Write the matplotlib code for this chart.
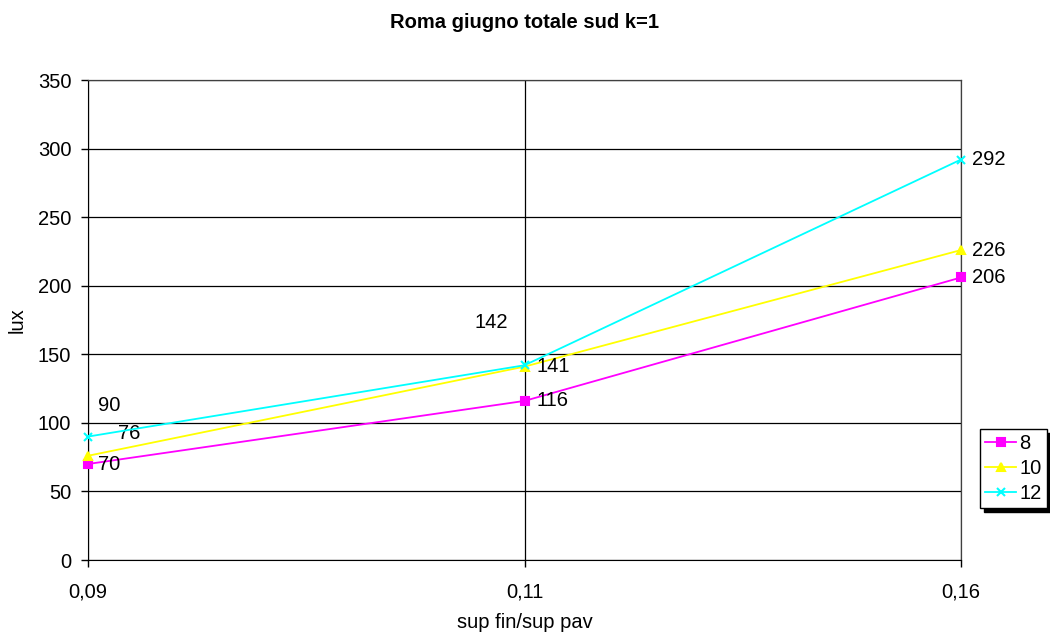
import matplotlib
matplotlib.use("Agg")
import matplotlib.pyplot as plt

# dati
categorie = ["0,09", "0,11", "0,16"]
serie_nomi = ["8", "10", "12"]
lux_8 = [70, 116, 206]
lux_10 = [76, 141, 226]
lux_12 = [90, 142, 292]

colori = ["#FF00FF", "#FFFF00", "#00FFFF"]
marker = ["s", "^", "x"]
# offset etichette in pixel (dx, dy)
offs = [
    [(10, 0), (12, 0), (11, 0)],
    [(30, 22), (12, 0), (11, 0)],
    [(10, 31), (-33, 43), (11, 0)],
]
FS = 14.5

plt.rcParams['font.family'] = ['Liberation Sans', 'DejaVu Sans']

fig = plt.figure(figsize=(10.5, 6.36), dpi=100)
ax = fig.add_axes([88/1050, 1-560/636, (961-88)/1050, 480/636])

x = list(range(len(categorie)))
for i, vals in enumerate([lux_8, lux_10, lux_12]):
    ax.plot(x, vals, color=colori[i], marker=marker[i], markersize=6,
            markeredgewidth=1.5, linewidth=1.3, label=serie_nomi[i],
            clip_on=False, zorder=3)
    for j, v in enumerate(vals):
        ax.annotate(str(v), (x[j], v), xytext=offs[i][j], textcoords='offset pixels',
                    ha='left' if offs[i][j][0] > 0 else 'center', va='center',
                    fontsize=FS)

ax.set_xlim(0, 2)
ax.set_ylim(0, 350)
ax.set_yticks(range(0, 351, 50))
ax.set_xticks(x)
ax.set_xticklabels(categorie)
ax.tick_params(labelsize=FS, length=5, width=1, color='black')
ax.tick_params(axis='y', pad=7)
ax.tick_params(axis='x', pad=11)
ax.grid(True, color='black', linewidth=0.9)
ax.set_axisbelow(True)
for s in ['top', 'right']:
    ax.spines[s].set_color('#404040')
    ax.spines[s].set_linewidth(0.9)
for s in ['left', 'bottom']:
    ax.spines[s].set_color('black')

ax.set_ylabel('lux', fontsize=FS)
ax.yaxis.set_label_coords((17-88)/873, 0.5)
ax.set_xlabel('sup fin/sup pav', fontsize=FS)
ax.xaxis.set_label_coords(0.5, -(623-560)/480)
ax.xaxis.label.set_va('center')
ax.yaxis.label.set_va('center')
fig.text(0.5, 1-23/636, 'Roma giugno totale sud k=1', ha='center', va='center',
         fontsize=FS, fontweight='bold')

leg = fig.legend(loc='upper left', bbox_to_anchor=(980/1050, 1-429/636),
                 fontsize=FS, frameon=True, fancybox=False,
                 shadow={'color': 'black', 'alpha': 1, 'ox': 3, 'oy': -3},
                 borderpad=0.25, labelspacing=0.3, handlelength=1.55,
                 handletextpad=0.15, borderaxespad=0)
leg.get_frame().set_edgecolor('black')
leg.get_frame().set_linewidth(1)

fig.savefig('out.png', dpi=100)
